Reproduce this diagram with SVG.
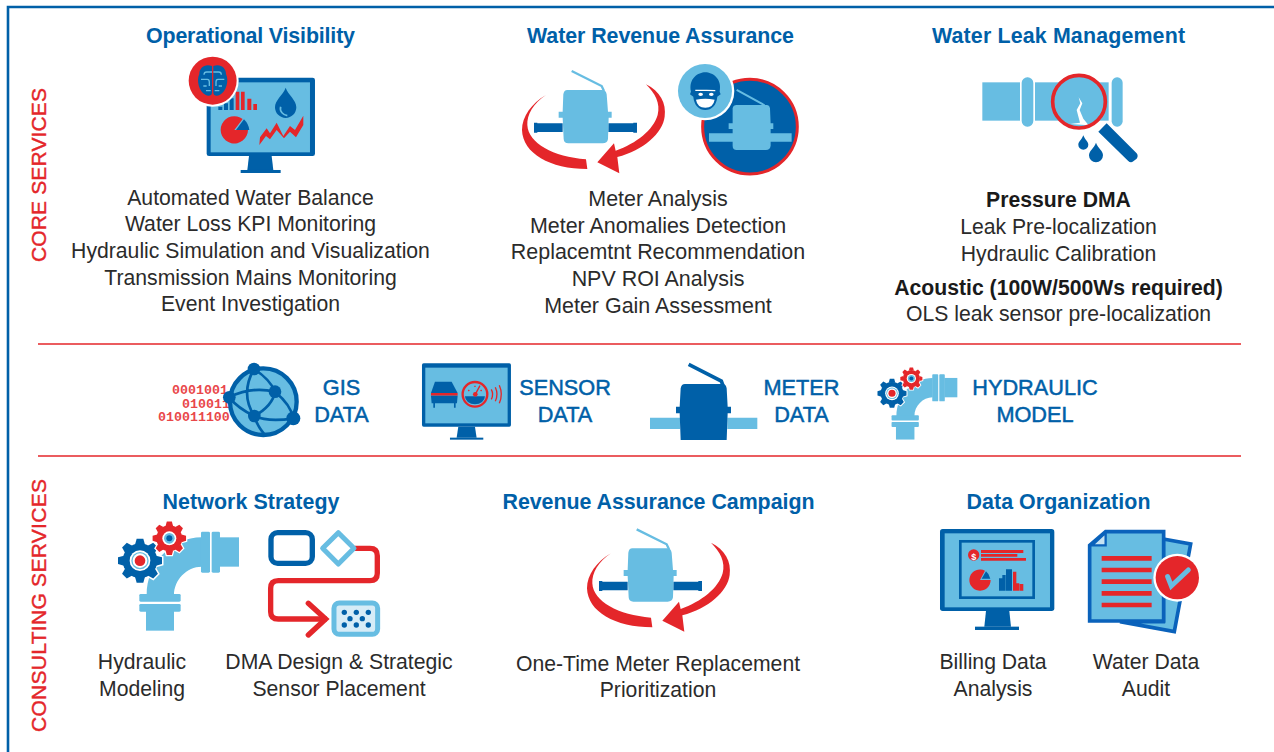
<svg xmlns="http://www.w3.org/2000/svg" xmlns:xlink="http://www.w3.org/1999/xlink" width="1274" height="752" viewBox="0 0 1274 752">
<style>
.d{fill:#0060a8}.l{fill:#67bde2}.r{fill:#e4262a}.w{fill:#fff}
.sd{fill:none;stroke:#0060a8}.sl{fill:none;stroke:#67bde2}.sr{fill:none;stroke:#e4262a}
text{font-family:"Liberation Sans",Arial,sans-serif}
.t{font-size:21.4px;font-weight:700;fill:#0060a8;text-anchor:middle}
.b{font-size:21.2px;fill:#2b2b2b;text-anchor:middle}
.b2{font-size:21.45px;fill:#2b2b2b;text-anchor:middle}
.k{font-size:21.2px;font-weight:700;fill:#1a1a1a;text-anchor:middle}
.m{font-size:21.7px;fill:#0060a8;text-anchor:middle;stroke:#0060a8;stroke-width:.5}
.s{font-size:21px;fill:#e4262a;text-anchor:middle;stroke:#e4262a;stroke-width:.4}
.bin{font-family:"Liberation Mono",monospace;font-size:13.3px;fill:#e9474a;font-weight:700}
.rule{stroke:#e4262a;stroke-width:1.6}
</style>
<defs>
<path id="tooth" d="M-15,-48L-10,-66H10L15,-48Z"/>
<g id="teeth">
<use href="#tooth"/><use href="#tooth" transform="rotate(45)"/><use href="#tooth" transform="rotate(90)"/><use href="#tooth" transform="rotate(135)"/>
<use href="#tooth" transform="rotate(180)"/><use href="#tooth" transform="rotate(225)"/><use href="#tooth" transform="rotate(270)"/><use href="#tooth" transform="rotate(315)"/>
</g>
<g id="meterSwoosh">
<path class="d" d="M72,183H82V185H158V211H82V213H72ZM295,185H370V183H381V213H370V211H295Z"/>
<path class="sl" stroke-width="7" d="M185,28L275,73L282,88"/>
<path class="l" d="M172,85H276Q288,85 290,98L294,150H305V168H296L294,232Q292,245 278,245H175Q162,245 161,232L158,168H146V150H158L160,98Q162,85 172,85Z"/>
<path class="r" d="M408,68C450,88 470,125 464,165C458,215 400,265 322,286L328,335L262,302L312,245L317,267C380,245 430,205 443,160C452,125 435,95 408,68Z"/>
<path class="r" d="M108,100C70,125 50,160 52,190C55,245 130,285 228,293L232,322C120,322 38,275 36,205C36,165 65,125 108,100Z"/>
</g>
<g id="gearBig">
<use href="#teeth" fill="#fff" stroke="#fff" stroke-width="9"/>
<circle r="54" class="w"/>
<circle r="52" class="d"/>
<use href="#teeth" fill="#0060a8"/>
<circle r="31" class="w"/><circle r="26" class="l"/><circle r="22" class="w"/><circle r="16" class="r"/>
</g>
<g id="gearSmall">
<use href="#teeth" transform="scale(.76)" fill="#fff" stroke="#fff" stroke-width="10"/>
<circle r="40" class="w"/>
<circle r="39" class="r"/>
<use href="#teeth" transform="scale(.76)" fill="#e4262a"/>
<circle r="21" class="w"/><circle r="16" class="l"/><circle r="9" class="d"/>
</g>
<g id="elbow">
<path class="l" d="M305,52C215,52 140,130 140,225H222C222,180 260,140 305,140Z"/>
<rect class="l" x="303" y="35" width="27" height="123" rx="4"/>
<rect class="l" x="335" y="35" width="25" height="123" rx="4"/>
<rect class="l" x="358" y="52" width="59" height="88"/>
<rect class="l" x="118" y="222" width="124" height="23" rx="4"/>
<rect class="l" x="118" y="252" width="124" height="23" rx="4"/>
<rect class="l" x="138" y="273" width="84" height="59"/>
<use href="#gearBig" x="120" y="122"/>
<use href="#gearSmall" x="208" y="55"/>
</g>
</defs>

<g id="frame"><path d="M8,752V7H1274" fill="none" stroke="#0060a8" stroke-width="2.6"/></g>

<g id="side-labels">
<text class="s" transform="translate(46,175) rotate(-90)" textLength="174">CORE SERVICES</text>
<text class="s" transform="translate(46,605.500) rotate(-90)" textLength="253">CONSULTING SERVICES</text>
</g>
<g id="rules">
<line class="rule" x1="38" y1="344" x2="1241" y2="344"/>
<line class="rule" x1="38" y1="456" x2="1241" y2="456"/>
</g>

<g id="operational-visibility">
<text class="t" x="250.500" y="43" textLength="209">Operational Visibility</text>
<g transform="translate(170,50) scale(.3333)">
<rect class="d" x="110" y="83" width="325" height="235" rx="7"/>
<rect class="l" x="122" y="97" width="298" height="210"/>
<path class="d" d="M237,318H305L310,360H232Z"/><rect class="d" x="212" y="360" width="120" height="9"/>
<path class="d" d="M145,170h12v10h-12ZM162,160h12v20h-12ZM179,145h12v35h-12Z"/>
<path class="r" d="M197,125h11v55h-11ZM213,125h11v55h-11ZM232,146h12v34h-12ZM250,162h11v18h-11Z"/>
<path class="r" d="M193,240L218,207A41,41 0 1 0 234,240Z"/>
<path class="d" d="M198,240L222,208Q236,222 238,240Z"/>
<path class="d" d="M347,113C355,135 379,150 379,172A32,32 0 0 1 315,172C315,150 339,135 347,113Z"/>
<path class="sl" stroke-width="5" d="M332,170C328,185 340,195 352,197"/>
<path class="r" d="M268,285L270,262L290,235L300,250L320,218L340,258L360,228L375,240L400,197V225L378,262L360,245L342,265L320,240L300,268L288,258Z"/>
<circle cx="128" cy="92" r="78" class="w"/><circle cx="128" cy="92" r="72" class="r"/>
<g id="brain">
<path class="d" d="M126,48C104,40 88,54 88,72C78,92 88,126 106,134C116,140 126,136 126,128Z"/>
<path class="d" d="M130,48C152,40 168,54 168,72C178,92 168,126 150,134C140,140 130,136 130,128Z"/>
<path class="sl" stroke-width="4" d="M126,66H110Q102,66 102,74M93,88H112Q118,88 118,96V108M100,108H110M122,122H108M130,66H146Q154,66 154,74M163,88H144Q138,88 138,96V108M156,108H146M134,122H148"/>
</g>
</g>
<text class="b" x="250.500" y="205">Automated Water Balance</text>
<text class="b" x="250.500" y="231">Water Loss KPI Monitoring</text>
<text class="b" x="250.500" y="258">Hydraulic Simulation and Visualization</text>
<text class="b" x="250.500" y="285">Transmission Mains Monitoring</text>
<text class="b" x="250.500" y="311">Event Investigation</text>
</g>

<g id="water-revenue-assurance">
<text class="t" x="660.500" y="43" textLength="267">Water Revenue Assurance</text>
<use href="#meterSwoosh" transform="translate(510,61.700) scale(.3333)"/>
<g transform="translate(510,55) scale(.3333)">
<circle cx="720" cy="215" r="142" class="d" stroke="#e4262a" stroke-width="9"/>
<path class="sl" stroke-width="6" d="M680,105L762,150L768,160"/>
<path class="l" d="M680,150H770Q778,150 780,160L782,205H790V222H782V235H845V260H782V272Q780,285 768,285H680Q668,285 668,272V260H597V235H668V222H656V205H668V160Q670,150 680,150Z"/>
<circle cx="585" cy="108" r="88" class="w"/><circle cx="585" cy="108" r="81" class="l"/>
<g id="thief">
<path class="d" d="M543,110C535,70 565,52 586,52C607,52 637,70 629,110L632,118L622,125C620,150 605,165 586,165C567,165 552,150 550,125L540,118Z"/>
<ellipse cx="572" cy="118" rx="7" ry="5" class="w"/><ellipse cx="604" cy="118" rx="7" ry="5" class="w"/>
<path fill="none" stroke="#fff" stroke-width="3.500" d="M556,106H590L616,107"/>
<path class="w" d="M558,134Q586,128 614,134Q610,158 586,158Q562,158 558,134Z"/>
</g>
</g>
<text class="b2" x="658" y="206">Meter Analysis</text>
<text class="b2" x="658" y="233">Meter Anomalies Detection</text>
<text class="b2" x="658" y="259">Replacemtnt Recommendation</text>
<text class="b2" x="658" y="286">NPV ROI Analysis</text>
<text class="b2" x="658" y="313">Meter Gain Assessment</text>
</g>

<g id="water-leak-management">
<text class="t" x="1058.500" y="43" textLength="253">Water Leak Management</text>
<g transform="translate(970,60) scale(.3333)">
<rect class="l" x="37" y="67" width="113" height="115"/>
<rect class="l" x="155" y="52" width="35" height="148" rx="17"/>
<rect class="l" x="195" y="67" width="221" height="115"/>
<rect class="l" x="425" y="52" width="33" height="148" rx="16"/>
<circle cx="327" cy="125" r="79" class="l"/>
<path class="w" d="M326,112L337,130L329,150L340,176L356,196L300,192L330,188L320,150L331,130Z"/>
<circle cx="327" cy="125" r="79" class="sr" stroke-width="11"/>
<path class="d" d="M385,215L410,190L500,280Q506,288 500,296L490,304Q482,310 474,302Z"/>
<path class="d" d="M340,226C345,240 355,245 355,254A15,15 0 0 1 325,254C325,245 335,240 340,226Z"/>
<path class="d" d="M378,248C384,265 399,272 399,286A21,21 0 0 1 357,286C357,272 372,265 378,248Z"/>
</g>
<text class="k" x="1058.500" y="207">Pressure DMA</text>
<text class="b" x="1058.500" y="234">Leak Pre-localization</text>
<text class="b" x="1058.500" y="261">Hydraulic Calibration</text>
<text class="k" x="1058.500" y="295">Acoustic (100W/500Ws required)</text>
<text class="b" x="1058.500" y="321">OLS leak sensor pre-localization</text>
</g>

<g id="gis-data">
<text class="bin" x="172" y="394">0001001</text>
<text class="bin" x="182" y="407.500">010011</text>
<text class="bin" x="158" y="421">010011100</text>
<g transform="translate(150,355) scale(.3333)">
<circle cx="340" cy="140" r="100" class="l" stroke="#0060a8" stroke-width="13"/>
<path class="sd" stroke-width="8" d="M312,42C285,90 285,140 313,183C350,200 400,195 430,190M312,42C340,60 365,85 375,110C370,140 345,165 313,183M238,127C280,105 330,100 375,110C405,135 425,160 430,190M238,127C260,155 285,170 313,183C320,210 335,228 345,240"/>
<circle cx="312" cy="42" r="19" class="d"/><circle cx="238" cy="127" r="19" class="d"/><circle cx="375" cy="110" r="19" class="d"/><circle cx="313" cy="183" r="19" class="d"/><circle cx="430" cy="190" r="21" class="d"/>
</g>
<text class="m" x="341.500" y="395">GIS</text>
<text class="m" x="341.500" y="422">DATA</text>
</g>

<g id="sensor-data">
<g transform="translate(150,355) scale(.3333)">
<rect class="d" x="816" y="25" width="267" height="190" rx="5"/>
<rect class="l" x="826" y="38" width="247" height="167"/>
<path class="d" d="M925,215H975L980,248H920Z"/><rect class="d" x="900" y="248" width="100" height="6"/>
<path class="d" d="M855,80H905L923,114H843Z"/>
<rect class="r" x="843" y="114" width="80" height="8"/>
<path class="d" d="M843,122H923L921,145H917V158H912V145H855V158H850V145H845Z"/>
<circle cx="975" cy="118" r="37" class="l" stroke="#e4262a" stroke-width="7"/>
<path class="d" d="M945,124H1005A30,24 0 0 1 945,124Z"/>
<path class="sr" stroke-width="4" d="M976,118L990,92M955,105l3,3M975,92v4M995,105l-3,3"/>
<circle cx="976" cy="118" r="7" class="r"/>
<path class="sr" stroke-width="4" d="M1024,103Q1032,118 1024,133M1036,97Q1046,118 1036,139M1048,91Q1060,118 1048,145"/>
</g>
<text class="m" x="565" y="395">SENSOR</text>
<text class="m" x="565" y="422">DATA</text>
</g>

<g id="meter-data">
<g transform="translate(640,355) scale(.3333)">
<path class="l" d="M30,188H120V222H30ZM262,188H352V222H262Z"/>
<path class="sd" stroke-width="11" d="M146,28L244,78L249,92"/>
<path class="d" d="M135,87H248Q258,87 260,100L263,155H273V175H263L260,255H122L119,175H108V155H119L122,100Q124,87 135,87Z"/>
</g>
<text class="m" x="801.500" y="395">METER</text>
<text class="m" x="801.500" y="422">DATA</text>
</g>

<g id="hydraulic-model">
<use href="#elbow" transform="translate(865.600,366.500) scale(.22)"/>
<text class="m" x="1035" y="395">HYDRAULIC</text>
<text class="m" x="1035" y="422">MODEL</text>
</g>

<g id="network-strategy">
<text class="t" x="251" y="509" textLength="177">Network Strategy</text>
<use href="#elbow" transform="translate(100,520) scale(.3333)"/>
<g transform="translate(100,520) scale(.3333)">
<rect x="513" y="38" width="124" height="92" rx="20" class="sd" stroke-width="16"/>
<path class="sr" stroke-width="16" d="M765,85H810Q832,85 832,107V160Q832,182 810,182H535Q512,182 512,205V275Q512,297 535,297H680"/>
<path class="sr" stroke-width="16" stroke-linecap="round" d="M625,250L677,297L625,345"/>
<path fill="#fff" stroke="#67bde2" stroke-width="15" stroke-linejoin="round" d="M715,38L762,85L715,132L668,85Z"/>
<rect x="702" y="249" width="131" height="94" rx="16" fill="#d6ecf7" stroke="#67bde2" stroke-width="15"/>
<g class="d"><circle cx="733" cy="277" r="8"/><circle cx="769" cy="277" r="8"/><circle cx="805" cy="277" r="8"/><circle cx="750" cy="296" r="8"/><circle cx="787" cy="296" r="8"/><circle cx="733" cy="315" r="8"/><circle cx="769" cy="315" r="8"/><circle cx="805" cy="315" r="8"/></g>
</g>
<text class="b" x="142" y="669">Hydraulic</text>
<text class="b" x="142" y="696">Modeling</text>
<text class="b" x="339" y="669">DMA Design &amp; Strategic</text>
<text class="b" x="339" y="696">Sensor Placement</text>
</g>

<g id="revenue-assurance-campaign">
<text class="t" x="658.500" y="509" textLength="312">Revenue Assurance Campaign</text>
<use href="#meterSwoosh" transform="translate(575,520) scale(.3333)"/>
<text class="b" x="658" y="671">One-Time Meter Replacement</text>
<text class="b" x="658" y="697">Prioritization</text>
</g>

<g id="data-organization">
<text class="t" x="1058.500" y="509" textLength="184">Data Organization</text>
<g transform="translate(930,520) scale(.3333)">
<rect class="d" x="30" y="27" width="343" height="246" rx="8"/>
<rect class="l" x="44" y="40" width="316" height="222"/>
<rect x="91" y="64" width="220" height="169" class="l" stroke="#0060a8" stroke-width="8"/>
<path class="d" d="M168,273H238L243,320H163Z"/><rect class="d" x="135" y="320" width="132" height="10"/>
<circle cx="131" cy="105" r="17" class="r"/>
<path class="r" d="M153,90H280V99H153ZM153,102H262V110H153ZM153,114H288V122H153Z"/>
<path class="r" d="M150,180L165,152A32,32 0 1 0 182,180Z"/>
<path class="d" d="M155,176L168,154Q178,162 181,176Z"/>
<path class="d" d="M207,175H217V212H207ZM217,165H227V212H217ZM228,148H246V212H228Z"/>
<path class="r" d="M249,155H259V212H249ZM259,190H268V212H259ZM269,192H280V212H269Z"/>
</g>
<text x="973.700" y="559.500" fill="#fff" font-size="9" font-weight="700" text-anchor="middle">$</text>
<g transform="translate(930,520) scale(.3333)">
<path class="l" stroke="#0a62bb" stroke-width="11" d="M700,57L782,72L733,335L570,305H700Z"/>
<path class="l" stroke="#0a62bb" stroke-width="11" stroke-linejoin="miter" d="M527,35H701V303H479V76Z"/>
<path fill="#c6e3f3" stroke="#0a62bb" stroke-width="7" d="M527,38V76H486Z"/>
<path class="r" d="M515,108H665V122H515ZM515,143H665V157H515ZM515,178H665V192H515ZM515,213H665V227H515ZM515,248H665V262H515Z"/>
<circle cx="742" cy="173" r="72" class="w"/><circle cx="742" cy="173" r="65" class="r"/>
<path class="sl" stroke-width="15" stroke-linecap="round" d="M713,170L724,198L775,150"/>
</g>
<text class="b" x="993" y="669">Billing Data</text>
<text class="b" x="993" y="696">Analysis</text>
<text class="b" x="1146" y="669">Water Data</text>
<text class="b" x="1146" y="696">Audit</text>
</g>
</svg>
